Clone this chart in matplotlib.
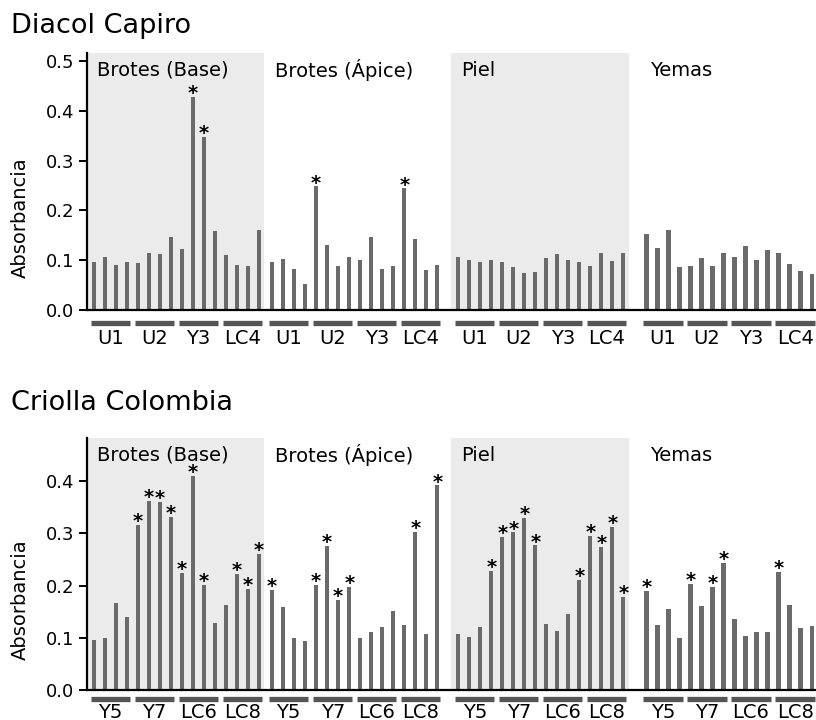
import matplotlib
matplotlib.use("Agg")
import matplotlib.pyplot as plt
from matplotlib.transforms import offset_copy
import numpy as np


regions = ["Brotes (Base)", "Brotes (Ápice)", "Piel", "Yemas"]
shaded = [True, False, True, False]

# Diacol Capiro
capiro_groups = ["U1", "U2", "Y3", "LC4"]
capiro_base = [0.097, 0.107, 0.091, 0.096, 0.095, 0.115, 0.113, 0.146,
               0.123, 0.427, 0.347, 0.158, 0.110, 0.090, 0.088, 0.160]
capiro_apice = [0.097, 0.103, 0.082, 0.053, 0.248, 0.131, 0.088, 0.106,
                0.100, 0.146, 0.082, 0.088, 0.244, 0.142, 0.080, 0.091]
capiro_piel = [0.106, 0.101, 0.097, 0.101, 0.096, 0.087, 0.074, 0.076,
               0.105, 0.113, 0.101, 0.096, 0.089, 0.115, 0.099, 0.114]
capiro_yemas = [0.153, 0.124, 0.160, 0.086, 0.089, 0.105, 0.089, 0.115,
                0.107, 0.128, 0.100, 0.121, 0.115, 0.093, 0.079, 0.072]
capiro_stars = [[9, 10], [4, 12], [], []]

# Criolla Colombia
criolla_groups = ["Y5", "Y7", "LC6", "LC8"]
criolla_base = [0.095, 0.100, 0.167, 0.139, 0.316, 0.362, 0.360, 0.332,
                0.225, 0.411, 0.202, 0.129, 0.162, 0.222, 0.193, 0.261]
criolla_apice = [0.192, 0.160, 0.100, 0.093, 0.202, 0.276, 0.173, 0.198,
                 0.100, 0.111, 0.121, 0.152, 0.124, 0.303, 0.107, 0.392]
criolla_piel = [0.107, 0.102, 0.120, 0.228, 0.294, 0.302, 0.330, 0.277,
                0.126, 0.113, 0.145, 0.211, 0.296, 0.275, 0.312, 0.179]
criolla_yemas = [0.190, 0.124, 0.155, 0.100, 0.203, 0.161, 0.198, 0.244,
                 0.137, 0.104, 0.112, 0.111, 0.227, 0.162, 0.118, 0.123]
criolla_stars = [[4, 5, 6, 7, 8, 9, 10, 13, 14, 15],
                 [0, 4, 5, 6, 7, 13, 15],
                 [3, 4, 5, 6, 7, 11, 12, 13, 14, 15],
                 [0, 4, 6, 7, 12]]

offsets = [0, 16.2, 33.1, 50.2]
BAR = "#6a6a6a"
SHADE = "#ebebeb"
FS = 14


def draw_panel(fig, ax, title, title_y, series, groups, stars, ymax, yticks,
               label_y, under_dy, lab_dy):
    ax.set_xlim(-0.62, 65.6)
    ax.set_ylim(0, ymax)
    under = offset_copy(ax.get_xaxis_transform(), fig=fig, y=under_dy, units='dots')
    lab = offset_copy(ax.get_xaxis_transform(), fig=fig, y=lab_dy, units='dots')
    for r, off in enumerate(offsets):
        if shaded[r]:
            ax.axvspan(off - 0.62, off + 15.5, color=SHADE, lw=0, zorder=0)
        x = off + np.arange(16)
        vals = series[r]
        ax.bar(x, vals, width=0.38, color=BAR, zorder=2)
        for i in stars[r]:
            ax.annotate("*", xy=(x[i], vals[i]), xytext=(0, -1.5),
                        textcoords='offset points', ha='center',
                        va='baseline', fontsize=14, fontweight='bold')
        ax.text(off + 0.3, label_y, regions[r], fontsize=FS, va='center', ha='left')
        for g in range(4):
            c = off + 1.5 + 4 * g
            ax.plot([c - 1.78, c + 1.78], [0, 0], transform=under, color="#555555",
                    lw=3.8, solid_capstyle='butt', clip_on=False)
            ax.text(c, 0, groups[g], transform=lab, ha='center', va='center', fontsize=FS)
    for s in ['top', 'right']:
        ax.spines[s].set_visible(False)
    ax.spines['left'].set_linewidth(1.6)
    ax.spines['bottom'].set_linewidth(1.6)
    ax.set_xticks([])
    ax.set_yticks(yticks)
    ax.set_yticklabels(["%.1f" % t for t in yticks])
    ax.tick_params(axis='y', length=6, width=1.4, labelsize=13, pad=3)
    ax.set_ylabel("Absorbancia", fontsize=FS)
    ax.yaxis.set_label_coords(-0.078, 0.36)
    fig.text(0.014, title_y, title, fontsize=19.5, va='center', ha='left')


fig = plt.figure(figsize=(8.16, 7.2), dpi=100)
ax1 = fig.add_axes([0.1066, 1 - 310 / 720, 0.8934, 257 / 720])
ax2 = fig.add_axes([0.1066, 1 - 690 / 720, 0.8934, 252 / 720])

draw_panel(fig, ax1, "Diacol Capiro", 1 - 26 / 720,
           [capiro_base, capiro_apice, capiro_piel, capiro_yemas],
           capiro_groups, capiro_stars, 0.516,
           [0.0, 0.1, 0.2, 0.3, 0.4, 0.5], 0.481, -13, -28)
draw_panel(fig, ax2, "Criolla Colombia", 1 - 403 / 720,
           [criolla_base, criolla_apice, criolla_piel, criolla_yemas],
           criolla_groups, criolla_stars, 0.483,
           [0.0, 0.1, 0.2, 0.3, 0.4], 0.450, -9, -22)

fig.savefig("out.png", dpi=100)
